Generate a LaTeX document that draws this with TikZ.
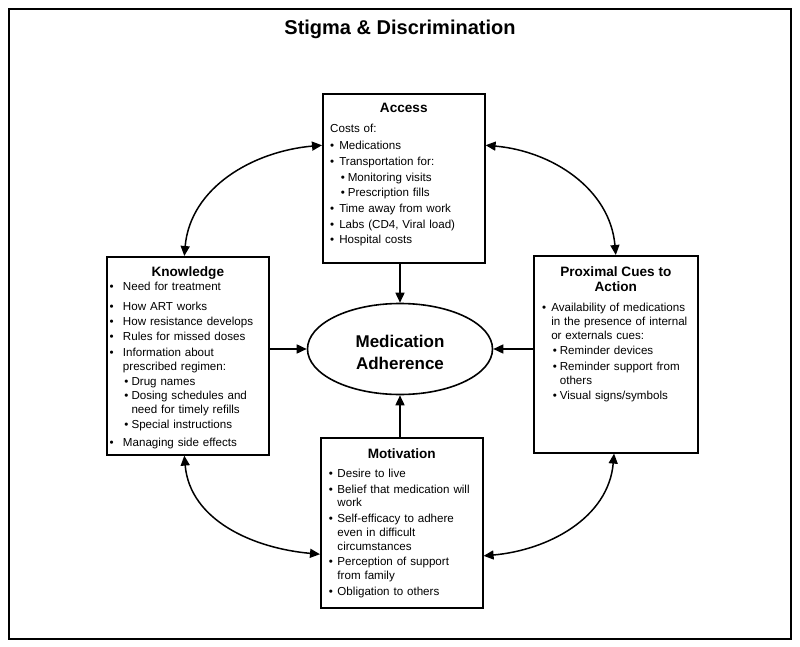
\documentclass[tikz,border=0pt]{standalone}
\usepackage{fontspec}
\setmainfont{Liberation Sans}
\usepackage{enumitem}
\usetikzlibrary{arrows.meta,shapes.geometric}

\setlist[itemize]{label=\textbullet, nosep, leftmargin=*, labelindent=0pt, labelsep=5pt, itemsep=1.8pt}
\setlist[itemize,2]{label=\textbullet, labelindent=1.5pt, labelsep=3pt, topsep=2pt}

\newcommand{\bodyfont}{\fontsize{11.6}{13.8}\selectfont}
\newcommand{\headfont}{\fontsize{13.6}{15.5}\selectfont\bfseries}

\tikzset{
  panel/.style={draw, line width=1.6pt, inner sep=0pt, anchor=north west},
  head/.style={inner sep=0pt, anchor=north, align=center, font=\headfont},
  body/.style={inner sep=0pt, anchor=north west, align=left, font=\bodyfont},
  link/.style={line width=1.6pt, -{Triangle[length=10pt,width=9pt]}},
  twoway/.style={line width=1.5pt, {Triangle[length=10pt,width=9pt]}-{Triangle[length=10pt,width=9pt]}},
}

\begin{document}
\begin{tikzpicture}[x=1pt,y=-1pt]
  \useasboundingbox (0,0) rectangle (800,647);
  \draw[line width=1.3pt] (9,9) rectangle (791,639);
  \node[anchor=base, inner sep=0pt, font=\fontsize{20}{24}\selectfont\bfseries] (title) at (400,35) {Stigma \& Discrimination};

  % the four boxes
  \node[panel, minimum width=162, minimum height=169] (access) at (322,93) {};
  \node[panel, minimum width=162, minimum height=198] (knowledge) at (106,256) {};
  \node[panel, minimum width=164, minimum height=197] (cues) at (533,255) {};
  \node[panel, minimum width=162, minimum height=170] (motivation) at (320,437) {};

  \node[ellipse, draw, line width=1.6pt, minimum width=185, minimum height=91, inner sep=0pt,
    align=center, font=\fontsize{17}{22}\selectfont\bfseries] (adherence) at (400,349)
    {\rule{0pt}{18.5pt}Medication\\Adherence};

  % titles
  \node[head] (access-head) at ([yshift=-10]access.north) {Access};
  \node[head] (knowledge-head) at ([yshift=-10]knowledge.north) {Knowledge};
  \node[head] (cues-head) at ([yshift=-11]cues.north) {Proximal Cues to\\Action};
  \node[head] (motivation-head) at ([yshift=-11]motivation.north) {Motivation};

  % lists
  \node[body, text width=150] (access-body) at ([xshift=8,yshift=-30.5]access.north west) {%
    Costs of:
    \begin{itemize}[topsep=4pt]
      \item Medications
      \item Transportation for:
      \begin{itemize}
        \item Monitoring visits
        \item Prescription fills
      \end{itemize}
      \item Time away from work
      \item Labs (CD4, Viral load)
      \item Hospital costs
    \end{itemize}};

  \node[body, text width=155] (knowledge-body) at ([xshift=3.5,yshift=-20.5]knowledge.north west) {%
    \begin{itemize}[labelsep=9.2pt, itemsep=1.5pt]
      \item Need for treatment\vspace{4.5pt}
      \item How ART works
      \item How resistance develops
      \item Rules for missed doses
      \item Information about\\prescribed regimen:
      \begin{itemize}[topsep=1.5pt, itemsep=0.8pt]
        \item Drug names
        \item Dosing schedules and\\need for timely refills
        \item Special instructions\vspace{2.5pt}
      \end{itemize}
      \item Managing side effects
    \end{itemize}};

  \node[body, text width=151] (cues-body) at ([xshift=9,yshift=-42.5]cues.north west) {%
    \begin{itemize}
      \item Availability of medications\\in the presence of internal\\or externals cues:
      \begin{itemize}
        \item Reminder devices
        \item Reminder support from\\others
        \item Visual signs/symbols
      \end{itemize}
    \end{itemize}};

  \node[body, text width=150] (motivation-body) at ([xshift=8.7,yshift=-26.5]motivation.north west) {%
    \begin{itemize}[labelsep=4.5pt]
      \item Desire to live
      \item Belief that medication will\\work
      \item Self-efficacy to adhere\\even in difficult\\circumstances
      \item Perception of support\\from family
      \item Obligation to others
    \end{itemize}};

  % straight arrows into the ellipse
  \draw[link] (adherence.north |- access.south) -- (adherence.north);
  \draw[link] (adherence.south |- motivation.north) -- (adherence.south);
  \draw[link] (knowledge.east |- adherence.west) -- (adherence.west);
  \draw[link] (cues.west |- adherence.east) -- (adherence.east);

  % curved arrows between the boxes
  \draw[twoway] (knowledge.92) to[out=85, in=185] (access.158);
  \draw[twoway] (access.22) to[out=-5, in=95] (cues.90);
  \draw[twoway] (knowledge.268) to[out=-85, in=175] (motivation.201);
  \draw[twoway] (motivation.338) to[out=5, in=-95] (cues.269);
\end{tikzpicture}
\end{document}
